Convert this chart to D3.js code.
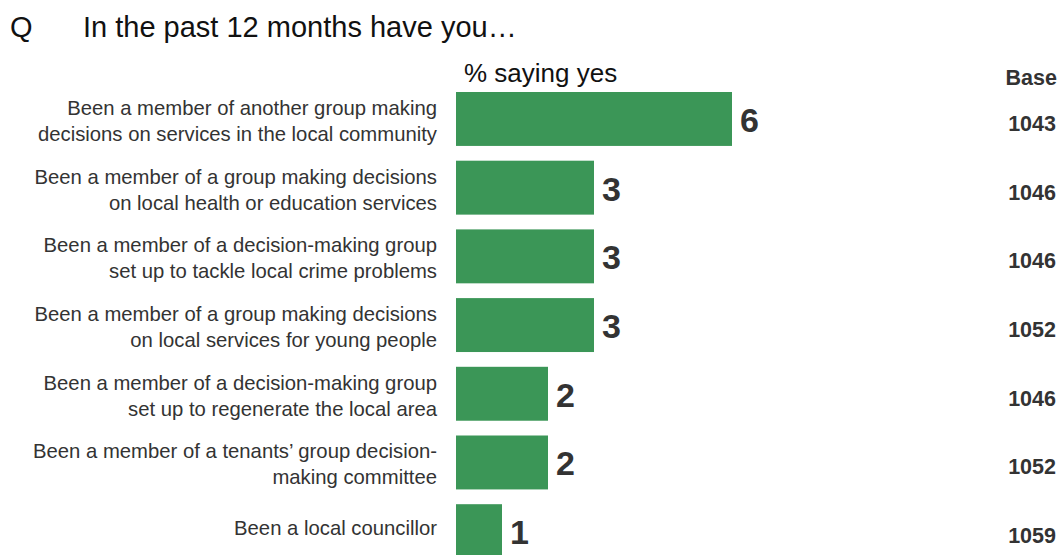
<!DOCTYPE html>
<html>
<head>
<meta charset="utf-8">
<script src="https://cdn.jsdelivr.net/npm/d3@7"></script>
<style>
  html, body { margin: 0; padding: 0; background: #fff; }
  svg { display: block; font-family: "Liberation Sans", Arial, Helvetica, sans-serif; }
</style>
</head>
<body>
<svg id="chart" width="1059" height="555"></svg>
<script>
// Survey items (each entry is one wrapped label, one line per string)
const categories = [
  ["Been a member of another group making", "decisions on services in the local community"],
  ["Been a member of a group making decisions", "on local health or education services"],
  ["Been a member of a decision-making group", "set up to tackle local crime problems"],
  ["Been a member of a group making decisions", "on local services for young people"],
  ["Been a member of a decision-making group", "set up to regenerate the local area"],
  ["Been a member of a tenants\u2019 group decision-", "making committee"],
  ["Been a local councillor"]
];
// % saying yes
const values = [6, 3, 3, 3, 2, 2, 1];
// Base (respondents answering)
const bases = [1043, 1046, 1046, 1052, 1046, 1052, 1059];

const titleQ = "Q";
const titleText = "In the past 12 months have you\u2026";
const valueHeader = "% saying yes";
const baseHeader = "Base";

const svg = d3.select("#chart");
const green = "#3b9657";
const dark = "#333333";

const idx = d3.range(values.length);

const step = 68.7;
const pad = 0.215;
const x = d3.scaleLinear().domain([0, 6]).range([456, 732]);
const y = d3.scaleBand()
  .domain(idx)
  .range([92 - step * pad / 2, 92 - step * pad / 2 + step * idx.length])
  .paddingInner(pad)
  .paddingOuter(pad / 2);

// Title
svg.append("text").attr("x", 10).attr("y", 37)
  .attr("font-size", 29).attr("fill", "#111").text(titleQ);
svg.append("text").attr("x", 83).attr("y", 37)
  .attr("font-size", 29).attr("fill", "#111").text(titleText);

// Column headers
svg.append("text").attr("x", 464).attr("y", 82)
  .attr("font-size", 26).attr("fill", "#111").text(valueHeader);
svg.append("text").attr("x", 1057).attr("y", 85)
  .attr("text-anchor", "end").attr("font-size", 21.5).attr("font-weight", "bold")
  .attr("fill", dark).text(baseHeader);

const rows = svg.append("g").selectAll("g").data(idx).join("g");

// Bars
rows.append("rect")
  .attr("x", x(0))
  .attr("y", i => y(i))
  .attr("width", i => x(values[i]) - x(0))
  .attr("height", y.bandwidth())
  .attr("fill", green);

// Category labels, right-aligned left of the bars
rows.each(function(i) {
  const lines = categories[i];
  const c = y(i) + y.bandwidth() / 2;
  const t = d3.select(this).append("text")
    .attr("text-anchor", "end")
    .attr("font-size", 20.3)
    .attr("fill", dark);
  const first = lines.length === 1 ? c + 4 : c - 4;
  lines.forEach((ln, k) => {
    t.append("tspan").attr("x", 437).attr("y", first + k * 26).text(ln);
  });
});

// Value labels at bar ends
rows.append("text")
  .attr("x", i => x(values[i]) + 8)
  .attr("y", i => y(i) + y.bandwidth() / 2 + 13)
  .attr("font-size", 34)
  .attr("font-weight", "bold")
  .attr("fill", dark)
  .text(i => values[i]);

// Base counts
rows.append("text")
  .attr("x", 1056)
  .attr("y", i => y(i) + y.bandwidth() / 2 + 12)
  .attr("text-anchor", "end")
  .attr("font-size", 21.5)
  .attr("font-weight", "bold")
  .attr("fill", dark)
  .text(i => bases[i]);
</script>
</body>
</html>
